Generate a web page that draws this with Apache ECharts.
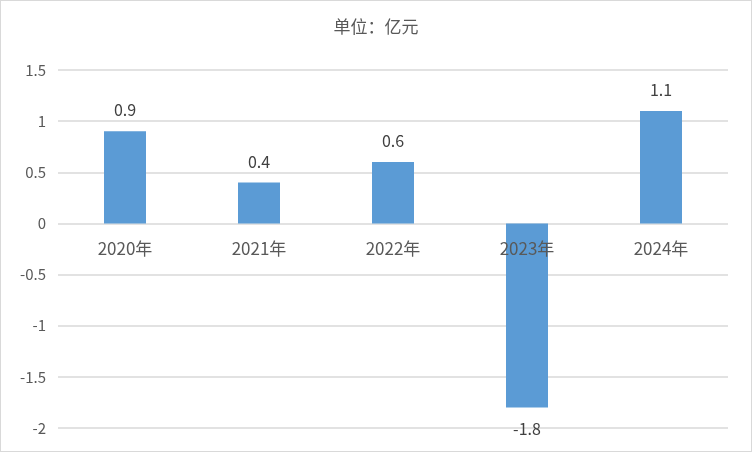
<!DOCTYPE html>
<html lang="zh-CN">
<head>
    <meta charset="UTF-8">
    <title>单位：亿元</title>
    <script src="https://cdn.jsdelivr.net/npm/echarts@6/dist/echarts.min.js"></script>
    <style>
        body, html {
            margin: 0;
            padding: 0;
            background: #fff;
        }
        #main {
            width: 750px;
            height: 450px;
            border: 1px solid #d9d9d9;
        }
    </style>
</head>
<body>
<div id="main"></div>
<script>
    var years = ['2020年', '2021年', '2022年', '2023年', '2024年'];
    var values = [0.9, 0.4, 0.6, -1.8, 1.1];
    var yMin = -2, yMax = 1.5, yStep = 0.5;

    var gridTop = 69, gridBottom = 23;
    var plotH = 450 - gridTop - gridBottom;
    // distance from the bottom of the plot to the zero line
    var zeroOffset = plotH * (0 - yMin) / (yMax - yMin);

    var chart = echarts.init(document.getElementById('main'));

    var option = {
        animation: false,
        title: {
            text: '单位：亿元',
            left: 'center',
            top: 12,
            textStyle: {
                fontSize: 17,
                fontWeight: 'normal',
                color: '#595959',
                fontFamily: 'Noto Sans CJK SC'
            }
        },
        grid: {
            left: 57,
            right: 23,
            top: gridTop,
            bottom: gridBottom,
            containLabel: false,
            outerBoundsMode: 'none'
        },
        xAxis: {
            type: 'category',
            data: years,
            offset: -zeroOffset,
            z: 10,
            axisLine: { show: false },
            axisTick: { show: false },
            axisLabel: {
                margin: 17,
                fontSize: 17,
                color: '#595959',
                fontFamily: 'Noto Sans CJK SC'
            }
        },
        yAxis: {
            type: 'value',
            min: yMin,
            max: yMax,
            interval: yStep,
            axisLine: { show: false },
            axisTick: { show: false },
            axisLabel: {
                margin: 12,
                fontSize: 15,
                color: '#595959',
                fontFamily: 'Noto Sans CJK SC'
            },
            splitLine: { lineStyle: { color: '#d9d9d9', width: 1.5 } }
        },
        series: [
            {
                type: 'bar',
                data: values,
                barWidth: 42,
                itemStyle: { color: '#5b9bd5' },
                label: {
                    show: true,
                    position: 'outside',
                    distance: 13,
                    fontSize: 16,
                    color: '#404040',
                    fontFamily: 'Noto Sans CJK SC'
                }
            }
        ]
    };

    chart.setOption(option);
</script>
</body>
</html>
